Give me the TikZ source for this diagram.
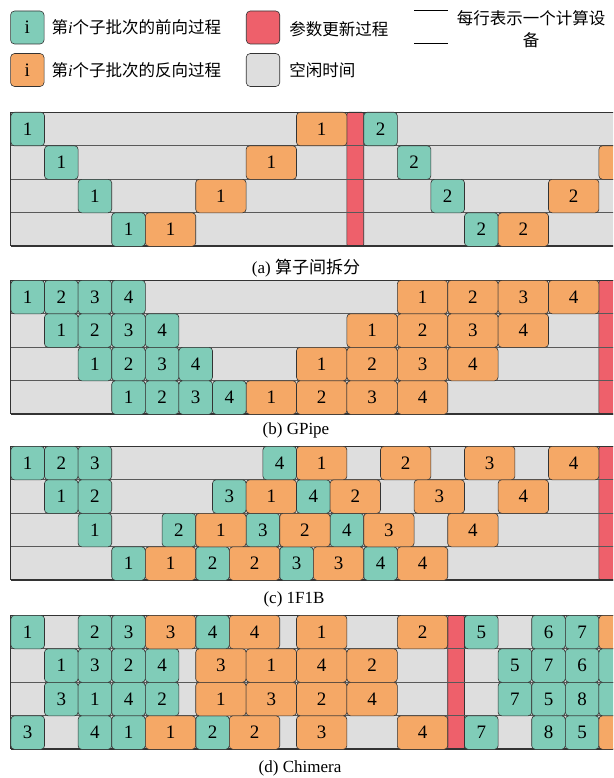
\documentclass[tikz,border=0pt]{standalone}
\usepackage{fontspec}
\setmainfont{Liberation Serif}
\newfontfamily\cjk{Noto Sans CJK SC}
\usepackage{tikz}
\usetikzlibrary{positioning}

\definecolor{fwdgreen}{HTML}{80CCB8}
\definecolor{bwdorange}{HTML}{F5A866}
\definecolor{updred}{HTML}{EE606B}
\definecolor{idlegray}{HTML}{DEDEDE}

\begin{document}
\begin{tikzpicture}[x=1pt,y=-1pt,
  blk/.style={draw=black!80,line width=0.6pt,rounded corners=3.5pt,inner sep=0pt,anchor=north west,minimum height=33.5pt,font=\fontsize{19}{19}\selectfont},
  fw/.style={blk,fill=fwdgreen,minimum width=33.6pt},
  bw/.style={blk,fill=bwdorange,minimum width=50.4pt},
  upd/.style={blk,fill=updred,minimum width=16.8pt,minimum height=134pt,rounded corners=2pt},
  idle/.style={fill=idlegray},
  sep/.style={draw=black!65,line width=0.6pt},
  captxt/.style={font=\fontsize{17}{17}\selectfont},
  lgbox/.style={draw=black!80,line width=0.6pt,rounded corners=4pt,minimum width=33.5pt,minimum height=33pt,inner sep=0pt,font=\fontsize{19}{19}\selectfont},
  lgtext/.style={font=\fontsize{16.5}{22}\selectfont,inner sep=0pt},
]
\useasboundingbox (0,0) rectangle (613,778);
\clip (0,0) rectangle (613,778);

% legend
\node[lgbox,fill=fwdgreen] (lg-fw) at (27.3,27.5) {i};
\node[lgbox,fill=bwdorange] (lg-bw) at (27.3,70) {i};
\node[lgbox,fill=updred] (lg-upd) at (263,27.5) {};
\node[lgbox,fill=idlegray] (lg-idle) at (263,70) {};
\node[lgtext,right=7pt of lg-fw] (lg-fw-t) {{\cjk 第}\textit{i}{\cjk 个子批次的前向过程}};
\node[lgtext,right=7pt of lg-bw] (lg-bw-t) {{\cjk 第}\textit{i}{\cjk 个子批次的反向过程}};
\node[lgtext,right=9pt of lg-upd,yshift=-2pt] (lg-upd-t) {\cjk 参数更新过程};
\node[lgtext,right=9pt of lg-idle] (lg-idle-t) {\cjk 空闲时间};
\coordinate (ln1a) at (414,10.7);
\coordinate (ln1b) at (448,10.7);
\coordinate (ln2a) at (414,43);
\coordinate (ln2b) at (448,43);
\draw[line width=0.8pt] (ln1a) -- (ln1b);
\draw[line width=0.8pt] (ln2a) -- (ln2b);
\node[lgtext,align=center,font=\cjk\fontsize{16.5}{22}\selectfont] (lg-dev) at (531,29) {每行表示一个计算设\\备};

% (a) inter-operator split
\begin{scope}[xshift=10.6pt,yshift=-112pt,x=33.6pt,y=-33.5pt]
\fill[idle] (0,0) rectangle (18.5,4);
\node[upd] (a-upd) at (10,0) {};
\foreach \r in {1,2,3} \draw[sep] (0,\r) -- (18.5,\r);
\draw[line width=0.8pt,black!80] (0,0) -- (18.5,0) (0,0) -- (0,4);
\draw[line width=1.4pt,black!80] (0,4) -- (18.5,4);
\foreach \x/\r/\k in {0/0/1,1/1/1,2/2/1,3/3/1,10.5/0/2,11.5/1/2,12.5/2/2,13.5/3/2}
  \node[fw] (a-f\r\k) at (\x,\r) {\k};
\foreach \x/\r/\k in {4/3/1,5.5/2/1,7/1/1,8.5/0/1,14.5/3/2,16/2/2}
  \node[bw] (a-b\r\k) at (\x,\r) {\k};
\node[bw] (a-b12) at (17.5,1) {};
\end{scope}
\node[captxt] (a-cap) at (306,268) {(a) {\cjk 算子间拆分}};

% (b) GPipe
\begin{scope}[xshift=10.6pt,yshift=-280pt,x=33.6pt,y=-33.5pt]
\fill[idle] (0,0) rectangle (18.5,4);
\node[upd] (b-upd) at (17.5,0) {};
\foreach \r in {1,2,3} \draw[sep] (0,\r) -- (18.5,\r);
\draw[line width=0.8pt,black!80] (0,0) -- (18.5,0) (0,0) -- (0,4);
\draw[line width=1.4pt,black!80] (0,4) -- (18.5,4);
\foreach \r in {0,...,3}
  \foreach \k in {1,...,4} {
    \node[fw] (b-f\r\k) at ({\r+\k-1},\r) {\k};
    \node[bw] (b-b\r\k) at ({11.5-1.5*\r+1.5*(\k-1)},\r) {\k};
  }
\end{scope}
\node[captxt] (b-cap) at (296,430) {(b) GPipe};

% (c) 1F1B
\begin{scope}[xshift=10.6pt,yshift=-446pt,x=33.6pt,y=-33.5pt]
\fill[idle] (0,0) rectangle (18.5,4);
\node[upd] (c-upd) at (17.5,0) {};
\foreach \r in {1,2,3} \draw[sep] (0,\r) -- (18.5,\r);
\draw[line width=0.8pt,black!80] (0,0) -- (18.5,0) (0,0) -- (0,4);
\draw[line width=1.4pt,black!80] (0,4) -- (18.5,4);
\foreach \x/\r/\k in {0/0/1,1/0/2,2/0/3,7.5/0/4,1/1/1,2/1/2,6/1/3,8.5/1/4,
                      2/2/1,4.5/2/2,7/2/3,9.5/2/4,3/3/1,5.5/3/2,8/3/3,10.5/3/4}
  \node[fw] (c-f\r\k) at (\x,\r) {\k};
\foreach \x/\r/\k in {8.5/0/1,11/0/2,13.5/0/3,16/0/4,7/1/1,9.5/1/2,12/1/3,14.5/1/4,
                      5.5/2/1,8/2/2,10.5/2/3,13/2/4,4/3/1,6.5/3/2,9/3/3,11.5/3/4}
  \node[bw] (c-b\r\k) at (\x,\r) {\k};
\end{scope}
\node[captxt] (c-cap) at (294,599) {(c) 1F1B};

% (d) Chimera
\begin{scope}[xshift=10.6pt,yshift=-615pt,x=33.6pt,y=-33.5pt]
\fill[idle] (0,0) rectangle (18.5,4);
\node[upd] (d-upd) at (13,0) {};
\foreach \r in {1,2,3} \draw[sep] (0,\r) -- (18.5,\r);
\draw[line width=0.8pt,black!80] (0,0) -- (18.5,0) (0,0) -- (0,4);
\draw[line width=1.4pt,black!80] (0,4) -- (18.5,4);
\foreach \x/\r/\k in {0/0/1,2/0/2,3/0/3,5.5/0/4,13.5/0/5,15.5/0/6,16.5/0/7,
                      1/1/1,2/1/3,3/1/2,4/1/4,14.5/1/5,15.5/1/7,16.5/1/6,
                      1/2/3,2/2/1,3/2/4,4/2/2,14.5/2/7,15.5/2/5,16.5/2/8,
                      0/3/3,2/3/4,3/3/1,5.5/3/2,13.5/3/7,15.5/3/8,16.5/3/5}
  \node[fw] (d-f\r\k) at (\x,\r) {\k};
\foreach \x/\r/\k in {4/0/3,6.5/0/4,8.5/0/1,11.5/0/2,
                      5.5/1/3,7/1/1,8.5/1/4,10/1/2,
                      5.5/2/1,7/2/3,8.5/2/2,10/2/4,
                      4/3/1,6.5/3/2,8.5/3/3,11.5/3/4}
  \node[bw] (d-b\r\k) at (\x,\r) {\k};
\node[bw] (d-bnext0) at (17.5,0) {};
\node[fw] (d-fnext1) at (17.5,1) {};
\node[fw] (d-fnext2) at (17.5,2) {};
\node[bw] (d-bnext3) at (17.5,3) {};
\end{scope}
\node[captxt] (d-cap) at (300,768) {(d) Chimera};

\end{tikzpicture}
\end{document}
